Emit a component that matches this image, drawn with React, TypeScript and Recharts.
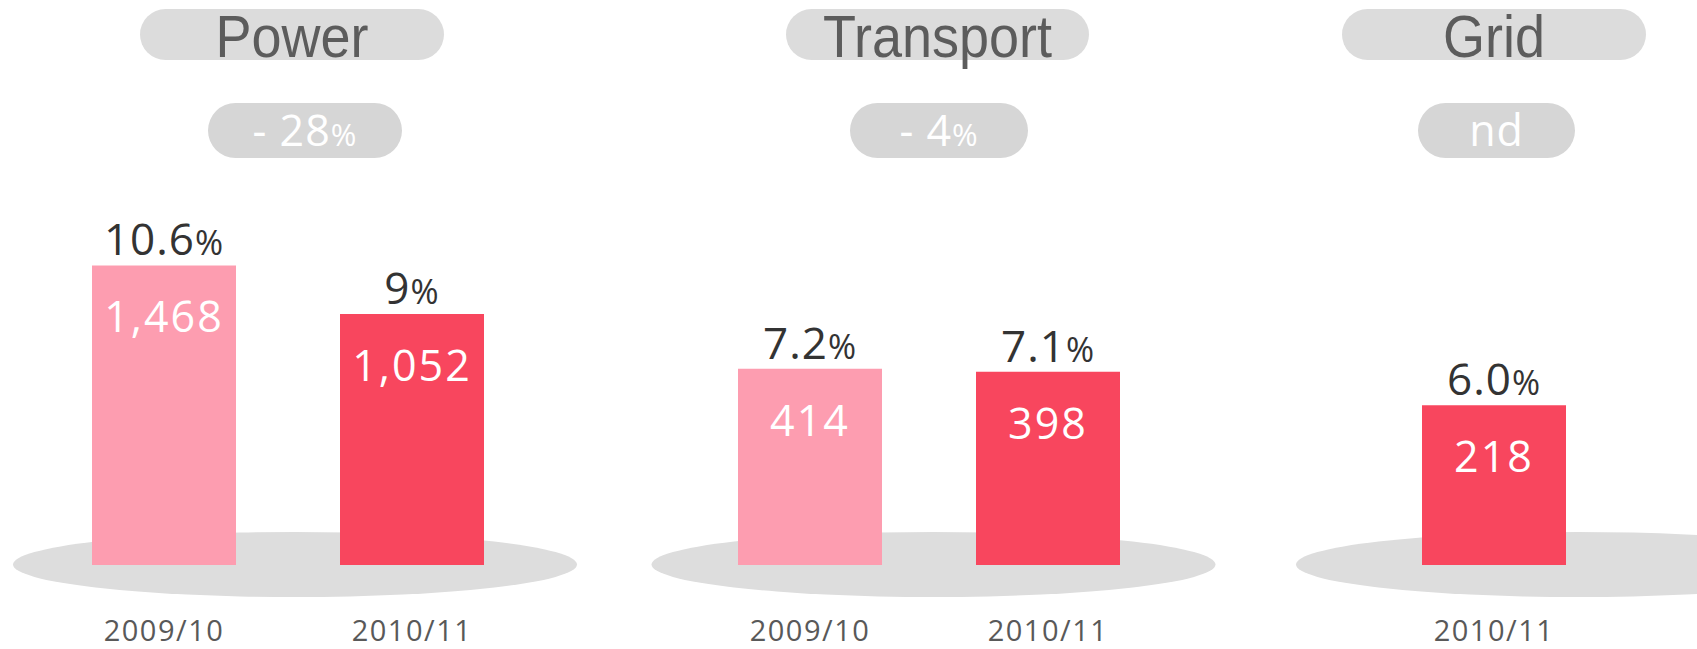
import React from "react";
import { BarChart, Bar, XAxis, YAxis, LabelList, Cell } from "recharts";

// ---- data ----
const segments = ["Power", "Transport", "Grid"];
const segmentChanges = ["- 28%", "- 4%", "nd"];

const powerPeriods = ["2009/10", "2010/11"];
const powerValues = [1468, 1052];
const powerMargins = [10.6, 9];
const powerMarginLabels = ["10.6%", "9%"];

const transportPeriods = ["2009/10", "2010/11"];
const transportValues = [414, 398];
const transportMargins = [7.2, 7.1];
const transportMarginLabels = ["7.2%", "7.1%"];

const gridPeriods = ["2010/11"];
const gridValues = [218];
const gridMargins = [6.0];
const gridMarginLabels = ["6.0%"];

const marginDomain: [number, number] = [0.75, 12.75];

// ---- styles ----
const periodColors: Record<string, string> = {
  "2009/10": "#FD9DB0",
  "2010/11": "#F8465E",
};
const FONT = "'Open Sans', 'DejaVu Sans', sans-serif";
const TITLE_FONT = "'Liberation Sans', Arial, sans-serif";
const W = 1697;
const H = 649;

const layout = [
  { chartLeft: 40, chartWidth: 496, titlePill: [140, 444], changePill: [208, 402], ellipseCx: 295 },
  { chartLeft: 691, chartWidth: 476, titlePill: [786, 1089], changePill: [850, 1028], ellipseCx: 933.5 },
  { chartLeft: 1375, chartWidth: 238, titlePill: [1342, 1646], changePill: [1418, 1575], ellipseCx: 1578 },
];

function buildRows(periods: string[], values: number[], margins: number[], labels: string[]) {
  return periods.map((p, i) => ({
    period: p,
    value: values[i],
    margin: margins[i],
    marginLabel: labels[i],
  }));
}

const panelData = [
  buildRows(powerPeriods, powerValues, powerMargins, powerMarginLabels),
  buildRows(transportPeriods, transportValues, transportMargins, transportMarginLabels),
  buildRows(gridPeriods, gridValues, gridMargins, gridMarginLabels),
];

function PctText(props: any) {
  const { x, y, text, size, pctSize, fill, spacing } = props;
  const s = String(text);
  const hasPct = s.endsWith("%");
  const main = hasPct ? s.slice(0, -1) : s;
  return (
    <text
      x={x}
      y={y}
      textAnchor="middle"
      fill={fill}
      fontSize={size}
      fontFamily={FONT}
      letterSpacing={spacing ?? 0}
    >
      {main}
      {hasPct && <tspan fontSize={pctSize}>%</tspan>}
    </text>
  );
}

const TopLabel = (props: any) => {
  const { x, y, width, value } = props;
  return (
    <PctText x={Number(x) + Number(width) / 2} y={Number(y) - 10} text={value} size={44} pctSize={34} fill="#333333" spacing={1} />
  );
};

const InnerLabel = (props: any) => {
  const { x, y, width, value } = props;
  return (
    <text
      x={Number(x) + Number(width) / 2}
      y={Number(y) + 67}
      textAnchor="middle"
      fill="#FFFFFF"
      fontSize={43}
      fontFamily={FONT}
      letterSpacing={2}
    >
      {Number(value).toLocaleString("en-US")}
    </text>
  );
};

const PeriodTick = (props: any) => {
  const { x, payload } = props;
  return (
    <text x={x} y={641} textAnchor="middle" fill="#595959" fontSize={29} fontFamily={FONT} letterSpacing={1.5}>
      {payload.value}
    </text>
  );
};

function Panel({ index }: { index: number }) {
  const l = layout[index];
  const data = panelData[index];
  return (
    <div style={{ position: "absolute", left: l.chartLeft, top: 0 }}>
      <BarChart width={l.chartWidth} height={H} data={data} margin={{ top: 200, right: 0, bottom: 0, left: 0 }}>
        <YAxis hide domain={marginDomain} allowDataOverflow />
        <XAxis dataKey="period" height={84} axisLine={false} tickLine={false} interval={0} tick={<PeriodTick />} />
        <Bar dataKey="margin" barSize={144} isAnimationActive={false}>
          {data.map((d) => (
            <Cell key={d.period} fill={periodColors[d.period]} />
          ))}
          <LabelList dataKey="marginLabel" content={<TopLabel />} />
          <LabelList dataKey="value" content={<InnerLabel />} />
        </Bar>
      </BarChart>
    </div>
  );
}

function Background() {
  return (
    <svg width={W} height={H} style={{ position: "absolute", left: 0, top: 0 }}>
      {layout.map((l, i) => {
        const [tx0, tx1] = l.titlePill;
        const [cx0, cx1] = l.changePill;
        return (
          <g key={segments[i]}>
            <ellipse cx={l.ellipseCx} cy={564.5} rx={282} ry={32.5} fill="#DDDDDD" />
            <rect x={tx0} y={9} width={tx1 - tx0} height={51} rx={25.5} ry={25.5} fill="#DCDCDC" />
            <text
              transform={`translate(${(tx0 + tx1) / 2}, 57) scale(0.9, 1)`}
              x={0}
              y={0}
              textAnchor="middle"
              fill="#5C5C5C"
              fontSize={60}
              fontFamily={TITLE_FONT}
            >
              {segments[i]}
            </text>
            <rect x={cx0} y={103} width={cx1 - cx0} height={55} rx={27.5} ry={27.5} fill="#D6D6D6" />
            <PctText x={(cx0 + cx1) / 2} y={146} text={segmentChanges[i]} size={43} pctSize={31} fill="#FFFFFF" spacing={1} />
          </g>
        );
      })}
    </svg>
  );
}

export default function App() {
  return (
    <div style={{ position: "absolute", left: 0, top: 0, width: W, height: H, background: "#FFFFFF", overflow: "hidden" }}>
      <Background />
      {layout.map((_, i) => (
        <Panel key={segments[i]} index={i} />
      ))}
    </div>
  );
}
